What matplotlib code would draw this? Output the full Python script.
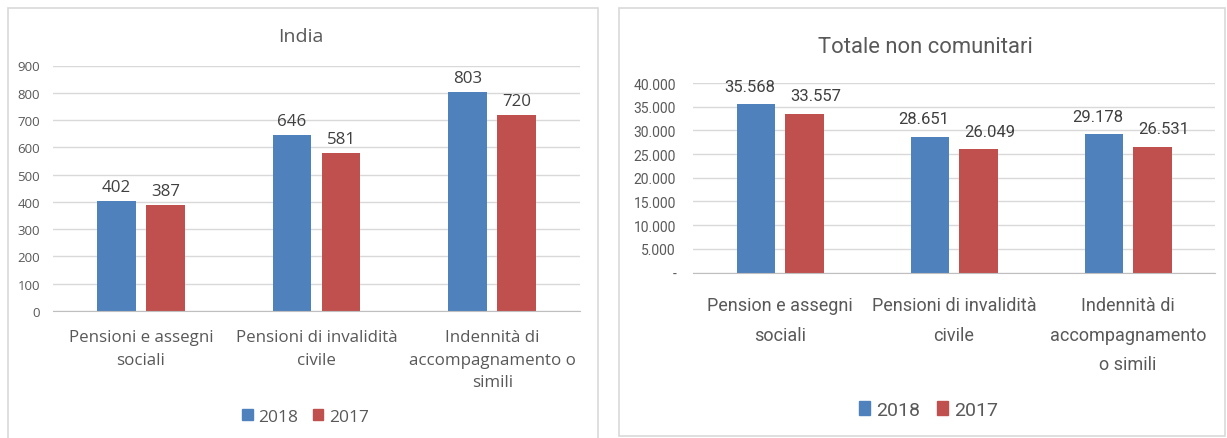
import matplotlib
matplotlib.use('Agg')

import numpy as np
import matplotlib.pyplot as plt
from matplotlib.patches import Rectangle, Patch
from matplotlib.ticker import FuncFormatter
from matplotlib.transforms import blended_transform_factory

categories_india = ['Pensioni e assegni\nsociali',
                    'Pensioni di invalidità\ncivile',
                    'Indennità di\naccompagnamento o\nsimili']
india_2018 = [402, 646, 803]
india_2017 = [387, 581, 720]

categories_tot = ['Pension e assegni\nsociali',
                  'Pensioni di invalidità\ncivile',
                  'Indennità di\naccompagnamento\no simili']
tot_2018 = [35568, 28651, 29178]
tot_2017 = [33557, 26049, 26531]

years = ['2018', '2017']

BLUE = '#4F81BD'
RED = '#C0504D'
GRID = '#D9D9D9'
TEXT = '#595959'
LABEL = '#404040'
BORDER = '#D9D9D9'

FONT_L = ['Open Sans', 'DejaVu Sans']
FONT_R = ['Roboto', 'DejaVu Sans']

W, H = 1227, 439


def fx(px):
    return px / W


def fy(py):
    return 1 - py / H


def plain_fmt(v, pos=None):
    return f'{int(round(v))}'


def it_fmt(v, pos=None):
    if v == 0:
        return '-'
    return f'{int(round(v)):,}'.replace(',', '.')


def draw_panel(fig, ax, cats, s18, s17, ymax, step, fmt, fam, st):
    x = np.arange(len(cats))
    w = 0.22
    b1 = ax.bar(x - 0.14, s18, w, color=BLUE, zorder=2)
    b2 = ax.bar(x + 0.14, s17, w, color=RED, zorder=2)
    for bars, vals, dx in ((b1, s18, st['dx18']), (b2, s17, st['dx17'])):
        for r, v in zip(bars, vals):
            ax.annotate(fmt(v), (r.get_x() + r.get_width() / 2, v),
                        xytext=(dx, st['dy']), textcoords='offset points',
                        ha='center', va='baseline', fontsize=st['lab_fs'],
                        color=LABEL, family=fam)
    ax.set_xlim(-0.5, len(cats) - 0.5)
    ax.set_ylim(0, ymax)
    ax.set_yticks(np.arange(0, ymax + 1, step))
    ax.yaxis.set_major_formatter(FuncFormatter(fmt))
    ax.set_xticks(x)
    ax.set_xticklabels([])
    for t in ax.get_yticklabels():
        t.set_fontsize(st['tick_fs'])
        t.set_color(TEXT)
        t.set_family(fam)
    ax.tick_params(length=0)
    ax.tick_params(axis='y', pad=st['ypad'])
    ax.grid(axis='y', color=GRID, lw=1, zorder=0)
    for s in ['top', 'right', 'left']:
        ax.spines[s].set_visible(False)
    ax.spines['bottom'].set_color('#BFBFBF')
    ax.set_facecolor('none')

    # category labels, top edge placed in figure pixels
    tr = blended_transform_factory(ax.transData, fig.transFigure)
    for xi, c in zip(x, cats):
        ax.text(xi, fy(st['cat_top']), c, transform=tr, ha='center',
                va='top', fontsize=st['cat_fs'], color=TEXT,
                family=fam, linespacing=st['ls'], multialignment='center')


fig = plt.figure(figsize=(W / 100, H / 100), dpi=100)

# panel frames
fig.patches.append(Rectangle((fx(8), fy(445)), fx(590), fy(9) - fy(445),
                             transform=fig.transFigure, fill=False,
                             edgecolor=BORDER, lw=1.2))
fig.patches.append(Rectangle((fx(619), fy(437)), fx(606), fy(9) - fy(437),
                             transform=fig.transFigure, fill=False,
                             edgecolor=BORDER, lw=1.2))

ax1 = fig.add_axes([fx(53), fy(312), fx(527), 245.5 / H])
draw_panel(fig, ax1, categories_india, india_2018, india_2017, 900, 100,
           plain_fmt, FONT_L,
           dict(tick_fs=9.5, lab_fs=12.2, cat_fs=12.2, ls=1.56, dy=7.2,
                dx18=0, dx17=0, ypad=9.4, cat_top=330))
fig.text(fx(300.5), fy(42), 'India', ha='center', va='baseline',
         fontsize=14, color=TEXT, family=FONT_L)

ax2 = fig.add_axes([fx(693), fy(273.5), fx(522), 189.5 / H])
draw_panel(fig, ax2, categories_tot, tot_2018, tot_2017, 40000, 5000,
           it_fmt, FONT_R,
           dict(tick_fs=10, lab_fs=12, cat_fs=13, ls=1.83, dy=9.7,
                dx18=-4, dx17=8, ypad=12.2, cat_top=297))
fig.text(fx(925), fy(53), 'Totale non comunitari', ha='center',
         va='baseline', fontsize=15.8, color=TEXT, family=FONT_R)

handles = [Patch(color=BLUE), Patch(color=RED)]
fig.legend(handles, years, loc='center', bbox_to_anchor=(fx(305.5), fy(418)),
           ncol=2, frameon=False, handlelength=0.6, handleheight=0.6,
           handletextpad=0.35, columnspacing=0.8,
           prop={'family': FONT_L, 'size': 12.5}, labelcolor=TEXT)
fig.legend(handles, years, loc='center', bbox_to_anchor=(fx(928.5), fy(411)),
           ncol=2, frameon=False, handlelength=0.55, handleheight=0.7,
           handletextpad=0.3, columnspacing=0.9,
           prop={'family': FONT_R, 'size': 14}, labelcolor=TEXT)

fig.savefig('out.png', dpi=100, facecolor='white')
